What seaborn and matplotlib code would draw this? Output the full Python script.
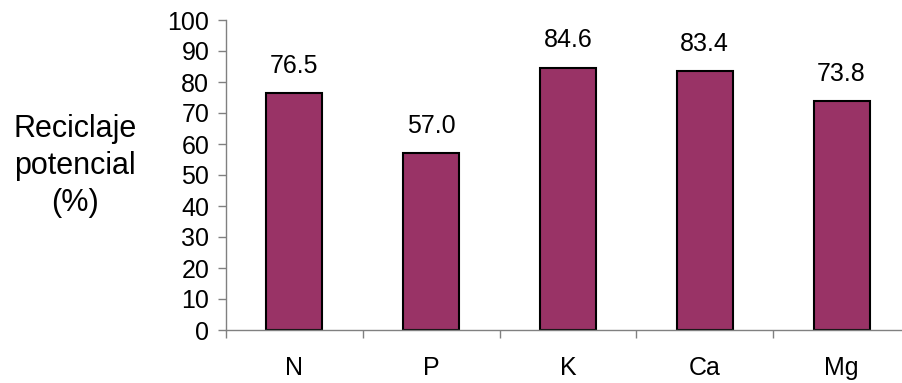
import matplotlib
matplotlib.use("Agg")
import matplotlib.pyplot as plt
import seaborn as sns
import pandas as pd
from matplotlib.ticker import FixedLocator

nutrients = ["N", "P", "K", "Ca", "Mg"]
recycling = [76.5, 57.0, 84.6, 83.4, 73.8]
y_ticks = [0, 10, 20, 30, 40, 50, 60, 70, 80, 90, 100]

sns.set_style("white")
plt.rcParams["font.family"] = ["Liberation Sans", "DejaVu Sans"]
plt.rcParams["text.color"] = "black"
plt.rcParams["xtick.labelcolor"] = "black"
plt.rcParams["ytick.labelcolor"] = "black"
plt.rcParams["axes.labelcolor"] = "black"

df = pd.DataFrame({"nutriente": nutrients, "reciclaje": recycling})

fig = plt.figure(figsize=(9.02, 3.83), dpi=100)
ax = fig.add_axes([226 / 902, 53 / 383, 684 / 902, 310 / 383])

sns.barplot(data=df, x="nutriente", y="reciclaje", color="#993366",
            saturation=1, width=0.41, edgecolor="black", linewidth=1.5, ax=ax)

for i, v in enumerate(recycling):
    ax.annotate(f"{v:.1f}", xy=(i, v), xytext=(0, 11), textcoords="offset points",
                ha="center", va="bottom", fontsize=18, color="black")

ax.set_ylim(0, 100)
ax.set_xlim(-0.5, len(nutrients) - 0.5)
ax.set_yticks(y_ticks)
ax.tick_params(axis="y", labelsize=18, length=6, width=1, color="#808080",
               direction="out", left=True, pad=6)
ax.tick_params(axis="x", which="major", labelsize=18, length=0, pad=19)
ax.xaxis.set_minor_locator(FixedLocator([i + 0.5 for i in range(-1, len(nutrients))]))
ax.tick_params(axis="x", which="minor", length=6, width=1, color="#808080",
               direction="out", bottom=True)

for side in ("top", "right"):
    ax.spines[side].set_visible(False)
for side in ("left", "bottom"):
    ax.spines[side].set_color("#808080")
    ax.spines[side].set_linewidth(1)

ax.set_xlabel("")
ax.set_ylabel("Reciclaje\npotencial\n(%)", rotation=0, fontsize=22, color="black",
              ha="center", va="center", multialignment="center", linespacing=1.3)
ax.yaxis.set_label_coords(-0.221, 0.53)

fig.savefig("out.png", dpi=100)
